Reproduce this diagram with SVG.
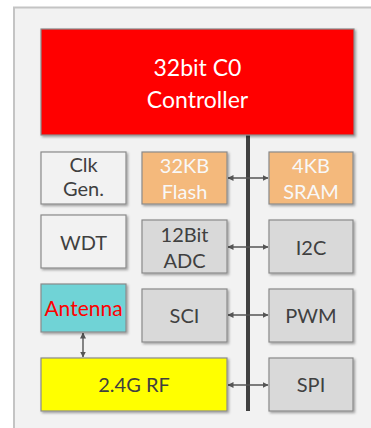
<svg xmlns="http://www.w3.org/2000/svg" width="371" height="428" viewBox="0 0 371 428">
<defs>
<filter id="sh" x="-10%" y="-10%" width="130%" height="130%">
<feDropShadow dx="1.5" dy="1.5" stdDeviation="1" flood-color="#000" flood-opacity="0.35"/>
</filter>
<marker id="ah" viewBox="0 0 6 6" refX="5.5" refY="3" markerWidth="6" markerHeight="6" markerUnits="userSpaceOnUse" orient="auto-start-reverse">
<path d="M0,0 L6,3 L0,6 Z" fill="#555"/>
</marker>
</defs>
<style>
.box{stroke:#8a8a8a;stroke-width:1.2;filter:url(#sh)}
.t{font-family:Lato,"Open Sans",sans-serif;font-size:20px;text-anchor:middle;fill:#404040}
.w{fill:#f8f8f8}
.c{stroke:#555;stroke-width:1.4;fill:none;marker-start:url(#ah);marker-end:url(#ah)}
</style>
<rect x="0" y="0" width="371" height="428" fill="#ffffff"/>
<rect x="14" y="7.5" width="400" height="450" fill="#f2f2f2" stroke="#c4c4c4" stroke-width="2"/>
<g id="connectors">
<line x1="248" y1="135" x2="248" y2="411" stroke="#404040" stroke-width="4"/>
<line class="c" x1="228" y1="178" x2="268" y2="178"/>
<line class="c" x1="228" y1="247" x2="268" y2="247"/>
<line class="c" x1="228" y1="315" x2="268" y2="315"/>
<line class="c" x1="228" y1="385" x2="268" y2="385"/>
<line class="c" x1="83" y1="333" x2="83" y2="357"/>
</g>
<g id="controller">
<rect class="box" x="41" y="29" width="313" height="106" fill="#ff0000"/>
<text class="t w" x="197.5" y="76" style="font-size:23px;fill:#fff">32bit C0</text>
<text class="t w" x="197.5" y="108" style="font-size:23px;fill:#fff">Controller</text>
</g>
<g id="clkgen">
<rect class="box" x="41" y="152" width="85" height="52" fill="#f2f2f2"/>
<text class="t" x="83.5" y="172">Clk</text>
<text class="t" x="83.5" y="195.5">Gen.</text>
</g>
<g id="flash">
<rect class="box" x="142" y="152" width="85" height="52" fill="#f4b97c"/>
<text class="t w" x="184.5" y="172.5">32KB</text>
<text class="t w" x="184.5" y="198.5">Flash</text>
</g>
<g id="sram">
<rect class="box" x="269" y="152" width="84" height="52" fill="#f4b97c"/>
<text class="t w" x="311" y="172.5">4KB</text>
<text class="t w" x="311" y="198.5">SRAM</text>
</g>
<g id="wdt">
<rect class="box" x="41" y="215" width="85" height="53" fill="#f2f2f2"/>
<text class="t" x="83.5" y="250">WDT</text>
</g>
<g id="adc">
<rect class="box" x="142" y="220" width="85" height="53" fill="#d9d9d9"/>
<text class="t" x="184.5" y="242">12Bit</text>
<text class="t" x="184.5" y="268">ADC</text>
</g>
<g id="i2c">
<rect class="box" x="269" y="220" width="84" height="53" fill="#d9d9d9"/>
<text class="t" x="311" y="255">I2C</text>
</g>
<g id="antenna">
<rect class="box" x="41" y="284" width="85" height="48" fill="#6fd3d6"/>
<text class="t" x="83.5" y="316" style="fill:#ff0000;font-size:21px">Antenna</text>
</g>
<g id="sci">
<rect class="box" x="142" y="289" width="85" height="53" fill="#d9d9d9"/>
<text class="t" x="184.5" y="322.5">SCI</text>
</g>
<g id="pwm">
<rect class="box" x="269" y="289" width="84" height="53" fill="#d9d9d9"/>
<text class="t" x="311" y="322.5">PWM</text>
</g>
<g id="rf">
<rect class="box" x="41" y="358" width="186" height="53" fill="#ffff00"/>
<text class="t" x="134" y="392">2.4G RF</text>
</g>
<g id="spi">
<rect class="box" x="269" y="358" width="84" height="53" fill="#d9d9d9"/>
<text class="t" x="311" y="392">SPI</text>
</g>
</svg>
